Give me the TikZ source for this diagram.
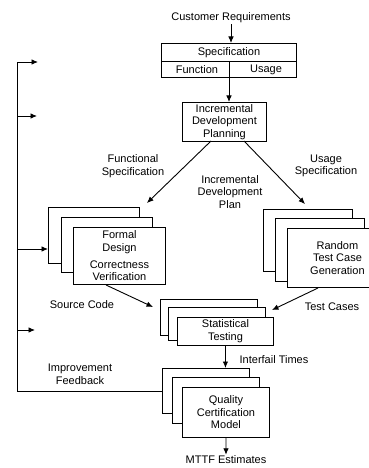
\documentclass[tikz,border=0pt]{standalone}
\usepackage{fontspec}
\setmainfont{Liberation Sans}
\usetikzlibrary{arrows.meta}

\tikzset{every picture/.style={line width=0.9pt}}
\tikzset{card/.style={draw, fill=white, inner sep=0pt, anchor=north west, align=center},
  arr/.style={-{Latex[length=6.5pt,width=5.5pt]}},
  lbl/.style={inner sep=0.75pt, align=center}}

\begin{document}
\begin{tikzpicture}[x=1pt,y=1pt,yscale=-1,xscale=1,every node/.style={font=\fontsize{11}{12.6}\selectfont}]
\useasboundingbox (0,0) rectangle (369,468);
\clip (0,0) rectangle (369,468);

%Shape: Specification table
\node[card, minimum width=135pt, minimum height=18pt] (spec) at (161,43) {Specification};
\node[card, minimum width=135pt, minimum height=16pt] (specsub) at (161,61) {};
\node[lbl] (func) at (197,69.5) {Function};
\node[lbl] (usage) at (266,69.5) {Usage};
\coordinate (div) at (229,61);

%Shape: Planning box
\node[card, minimum width=84pt, minimum height=39pt] (idp) at (182,102) {Incremental\\Development\\Planning};

%Shape: Formal design stack
\node[card, minimum width=91pt, minimum height=56pt] (fd1) at (48,207) {};
\node[card, minimum width=91pt, minimum height=55pt] (fd2) at (61,217) {};
\node[card, minimum width=92pt, minimum height=57pt] (fd3) at (73,227) {Formal\\Design\\[4pt]Correctness\\Verification};

%Shape: Random test case stack
\node[card, minimum width=89pt, minimum height=62pt] (rt1) at (263,209) {};
\node[card, minimum width=89pt, minimum height=63pt] (rt2) at (275,218) {};
\node[card, minimum width=100pt, minimum height=59pt] (rt3) at (287,228) {Random\\Test Case\\Generation};

%Shape: Statistical testing stack
\node[card, minimum width=97pt, minimum height=36pt] (st1) at (160,299) {};
\node[card, minimum width=97pt, minimum height=33pt] (st2) at (168,307) {};
\node[card, minimum width=96pt, minimum height=28pt] (st3) at (177,317) {Statistical\\Testing};

%Shape: Quality certification stack
\node[card, minimum width=87pt, minimum height=45pt] (qc1) at (162,368) {};
\node[card, minimum width=87pt, minimum height=46pt] (qc2) at (172,377) {};
\node[card, minimum width=87pt, minimum height=50pt] (qc3) at (182,387) {Quality\\Certification\\Model};

% Text Node
\node[lbl] (cust) at (231,18) {Customer Requirements};
% Text Node
\node[lbl] (funcspec) at (133,166) {Functional\\Specification};
% Text Node
\node[lbl] (usespec) at (326,166) {Usage\\Specification};
% Text Node
\node[lbl] (plan) at (230,192) {Incremental\\Development\\Plan};
% Text Node
\node[lbl] (srccode) at (82,305) {Source Code};
% Text Node
\node[lbl] (testcases) at (332,307) {Test Cases};
% Text Node
\node[lbl] (interfail) at (274,360) {Interfail Times};
% Text Node
\node[lbl] (feedback) at (80,374) {Improvement\\Feedback};
% Text Node
\node[lbl] (mttf) at (226,460) {MTTF Estimates};

%Connectors
\coordinate (idpL) at (211,141);
\coordinate (idpR) at (244,141);
\coordinate (fdtip) at (147,203);
\coordinate (rttip) at (305,204);
\coordinate (srcA) at (106,285);
\coordinate (srcB) at (153,307);
\coordinate (tcA) at (318,288);
\coordinate (tcB) at (272,310);

\draw[arr] (cust.south) -- (cust.south |- spec.north);
\draw[arr] (div) -- (div |- idp.north);
\draw[arr] (idpL) -- (fdtip);
\draw[arr] (idpR) -- (rttip);
\draw[arr] (srcA) -- (srcB);
\draw[arr] (tcA) -- (tcB);
\draw[arr] (st3.south) -- (st3.south |- qc1.north);
\draw[arr] (qc3.south) -- (mttf.north);

%Feedback loop
\coordinate (fbA) at (17,62);
\coordinate (fbB) at (17,116);
\coordinate (fbC) at (17,249);
\coordinate (fbD) at (17,330);
\draw (qc1.west) -- (qc1.west -| fbA) -- (fbA);
\draw[arr] (fbA) -- (38,62);
\draw[arr] (fbB) -- (37,116);
\draw[arr] (fbC) -- (fbC -| fd1.west);
\draw[arr] (fbD) -- (35,330);

\end{tikzpicture}
\end{document}
